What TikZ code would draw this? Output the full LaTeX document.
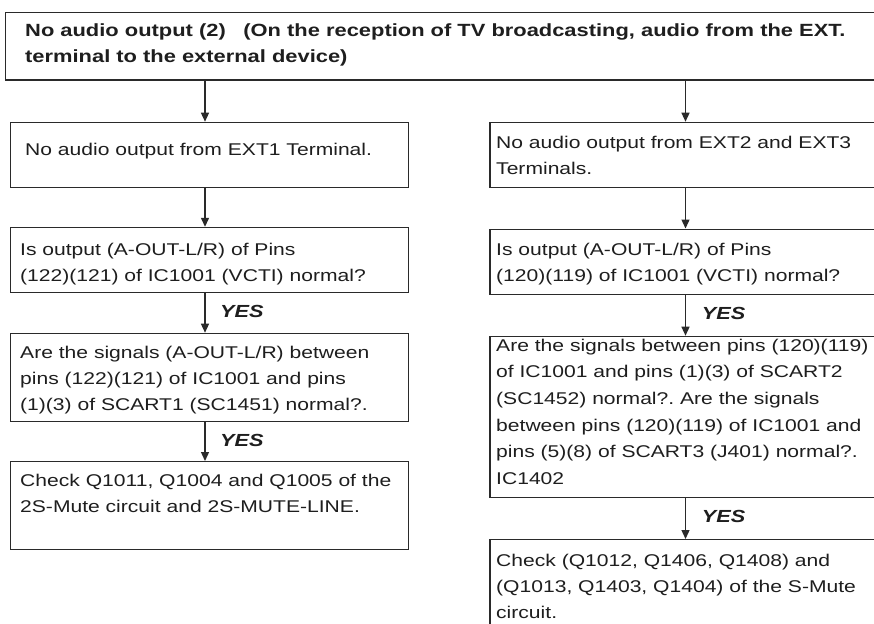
\documentclass[tikz,border=0pt]{standalone}
\usepackage{fontspec}
\setmainfont{Liberation Sans}[FakeStretch=1.24]
\usetikzlibrary{arrows.meta,calc}
\definecolor{linec}{HTML}{2A2A2A}
\definecolor{textc}{HTML}{1E1E1E}
\frenchspacing
\begin{document}
\begin{tikzpicture}[x=1pt,y=-1pt,
  box/.style={draw=linec, line width=1.3pt, rectangle, inner sep=0pt, anchor=north west},
  txt/.style={anchor=north west, inner sep=0pt, align=left, font=\fontsize{17}{26}\selectfont\frenchspacing, text=textc},
  rtxt/.style={txt, font=\fontsize{17}{26.6}\selectfont\frenchspacing},
  ttl/.style={txt, font=\fontsize{17.65}{26}\selectfont\bfseries\frenchspacing},
  yes/.style={anchor=base west, inner sep=0pt, font=\fontsize{17.5}{26}\selectfont\bfseries\itshape, text=textc},
  arr/.style={draw=linec, line width=1.3pt, -{Triangle[length=9pt,width=8pt]}}]
\path[use as bounding box] (0,0) rectangle (874,623);
\clip (0,0) rectangle (874,623);
\fill[white] (0,0) rectangle (874,623);
% column axes
\coordinate (cl) at (205,0);
\coordinate (cr) at (685.5,0);
% boxes
\node[box, minimum width=900pt, minimum height=67.5pt] (T) at (5,12) {};
\node[box, minimum width=398pt, minimum height=65pt] (L1) at (9.5,121.7) {};
\node[box, minimum width=398pt, minimum height=65pt] (L2) at (9.5,226.8) {};
\node[box, minimum width=398pt, minimum height=88.3pt] (L3) at (9.5,332.7) {};
\node[box, minimum width=398pt, minimum height=88pt] (L4) at (9.5,461) {};
\node[box, minimum width=420pt, minimum height=65pt] (R1) at (489.3,121.7) {};
\node[box, minimum width=420pt, minimum height=65.5pt] (R2) at (489.3,228.5) {};
\node[box, minimum width=420pt, minimum height=161pt] (R3) at (489.3,335.7) {};
\node[box, minimum width=420pt, minimum height=150pt] (R4) at (489.3,539) {};
% texts
\node[ttl] (Tt) at (25,36-18.2) {\strut No audio output (2)\hspace{1em}(On the reception of TV broadcasting, audio from the EXT.\\terminal to the external device)};
\node[txt] (L1t) at (25,155-18.2) {\strut No audio output from EXT1 Terminal.};
\node[txt] (L2t) at (20,255-18.2) {\strut Is output (A-OUT-L/R) of Pins\\(122)(121) of IC1001 (VCTI) normal?};
\node[txt] (L3t) at (20,358-18.2) {\strut Are the signals (A-OUT-L/R) between\\pins (122)(121) of IC1001 and pins\\(1)(3) of SCART1 (SC1451) normal?.};
\node[txt] (L4t) at (20,486.7-18.2) {\strut Check Q1011, Q1004 and Q1005 of the\\2S-Mute circuit and 2S-MUTE-LINE.};
\node[txt] (R1t) at (496,148-18.2) {\strut No audio output from EXT2 and EXT3\\Terminals.};
\node[txt] (R2t) at (496,255-18.2) {\strut Is output (A-OUT-L/R) of Pins\\(120)(119) of IC1001 (VCTI) normal?};
\node[rtxt] (R3t) at (496,351-18.6) {\strut Are the signals between pins (120)(119)\\of IC1001 and pins (1)(3) of SCART2\\(SC1452) normal?. Are the signals\\between pins (120)(119) of IC1001 and\\pins (5)(8) of SCART3 (J401) normal?.\\IC1402};
\node[txt] (R4t) at (496,566-18.2) {\strut Check (Q1012, Q1406, Q1408) and\\(Q1013, Q1403, Q1404) of the S-Mute\\circuit.};
% YES labels
\node[yes] (y1) at (220,317) {YES};
\node[yes] (y2) at (220,446.7) {YES};
\node[yes] (y3) at (701.7,319) {YES};
\node[yes] (y4) at (701.7,522.7) {YES};
% connectors
\draw[arr] (T.south -| cl) -- (L1.north -| cl);
\draw[arr] (L1.south -| cl) -- (L2.north -| cl);
\draw[arr] (L2.south -| cl) -- (L3.north -| cl);
\draw[arr] (L3.south -| cl) -- (L4.north -| cl);
\draw[arr] (T.south -| cr) -- (R1.north -| cr);
\draw[arr] (R1.south -| cr) -- (R2.north -| cr);
\draw[arr] (R2.south -| cr) -- (R3.north -| cr);
\draw[arr] (R3.south -| cr) -- (R4.north -| cr);
\end{tikzpicture}
\end{document}
